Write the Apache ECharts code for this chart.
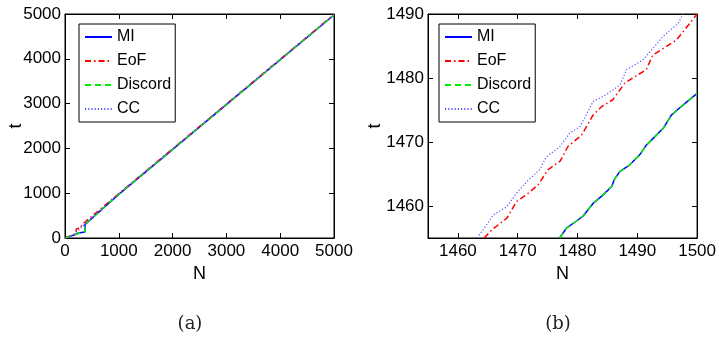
<!DOCTYPE html>
<html>
<head>
<meta charset="utf-8">
<script src="https://cdn.jsdelivr.net/npm/echarts@6/dist/echarts.min.js"></script>
<style>
  html, body { margin: 0; padding: 0; background: #fff; }
  #chart { width: 719px; height: 344px; }
</style>
</head>
<body>
<div id="chart"></div>
<script>
// names of the four methods
const seriesNames = ['MI', 'EoF', 'Discord', 'CC'];

// (a) full range, [N, t]
const fullMI = [[0, 0], [150, 60], [280, 118], [370, 135], [372, 300], [1000, 975], [3000, 2977], [5000, 4978]];
const fullEoF = [[0, 0], [150, 70], [205, 95], [210, 200], [300, 230], [305, 290], [1000, 990], [3000, 2990], [5000, 4990]];
const fullDiscord = [[0, 0], [150, 60], [280, 118], [370, 135], [372, 300], [1000, 975], [3000, 2977], [5000, 4978]];
const fullCC = [[0, 0], [200, 90], [260, 180], [330, 270], [1000, 992], [3000, 2992], [5000, 4992]];

// (b) zoomed window, [N, t]
const zoomMI = [[1477.0, 1455.0], [1478.2, 1456.6], [1479.6, 1457.5], [1480.9, 1458.4], [1482.6, 1460.4], [1484.0, 1461.5],
  [1485.7, 1463.0], [1486.2, 1464.2], [1487.1, 1465.4], [1488.7, 1466.4], [1490.4, 1468.0], [1491.5, 1469.5],
  [1492.9, 1470.8], [1494.3, 1472.1], [1495.7, 1474.2], [1497.3, 1475.5], [1500, 1477.6]];
const zoomEoF = [[1464.4, 1455.0], [1465.7, 1456.3], [1468.2, 1458.1], [1469.8, 1460.7], [1471.5, 1461.8], [1473.4, 1463.3],
  [1475.1, 1465.7], [1477.1, 1467.0], [1478.4, 1469.3], [1480.7, 1471.1], [1482.6, 1474.2], [1484.0, 1475.5],
  [1485.9, 1476.6], [1487.9, 1479.2], [1489.6, 1480.2], [1491.5, 1481.3], [1492.6, 1483.6], [1494.8, 1484.9],
  [1496.5, 1485.9], [1497.9, 1487.5], [1500, 1490.0]];
const zoomDiscord = zoomMI.slice();
const zoomCC = [[1463.2, 1455.0], [1464.6, 1456.8], [1465.9, 1458.6], [1468.2, 1459.9], [1469.8, 1462.0], [1471.5, 1463.8],
  [1473.7, 1465.7], [1474.8, 1467.7], [1477.1, 1469.3], [1478.7, 1471.4], [1480.4, 1472.4], [1482.6, 1476.3],
  [1484.8, 1477.4], [1487.1, 1478.9], [1488.2, 1481.3], [1490.9, 1482.8], [1492.6, 1484.6], [1494.3, 1486.5],
  [1496.8, 1488.5], [1498.2, 1491.0]];

// axis ranges
const fullRange = { min: 0, max: 5000, interval: 1000 };
const zoomX = { min: 1455, max: 1500, interval: 10, first: 1460 };
const zoomY = { min: 1455, max: 1490, interval: 10, first: 1460 };
const captions = ['(a)', '(b)'];

const FONT = 'Liberation Sans, Arial, sans-serif';
const STYLES = {
  MI: { color: '#0000ff', width: 1.5, type: 'solid' },
  EoF: { color: '#ff0000', width: 1.5, type: [6, 3, 1.5, 3] },
  Discord: { color: '#00ee00', width: 1.5, type: [6, 4] },
  CC: { color: '#5555ff', width: 1.2, type: [1.2, 2] }
};

const chart = echarts.init(document.getElementById('chart'));

// ticks only on given values (matlab style)
function tickAxis(kind, gridIndex, pos, r, showLabel, name) {
  const ax = {
    type: 'value',
    gridIndex: gridIndex,
    position: pos,
    min: r.min,
    max: r.max,
    interval: r.interval,
    splitLine: { show: false },
    axisLine: { show: true, onZero: false, lineStyle: { color: '#000', width: 1 } },
    axisTick: { show: true, inside: true, length: 5, lineStyle: { color: '#000' } },
    axisLabel: {
      show: showLabel,
      color: '#000',
      fontFamily: FONT,
      fontSize: 17,
      margin: kind === 'x' ? 5 : 4,
      showMinLabel: true,
      showMaxLabel: true,
      formatter: (v) => String(v)
    }
  };
  if (r.first !== undefined) {
    // zoomed axes: ticks start at 1460, the edge 1455 is not labelled
    ax.interval = undefined;
    ax.customValues = [];
    for (let v = r.first; v <= r.max; v += r.interval) ax.customValues.push(v);
    ax.axisTick.customValues = ax.customValues;
    ax.axisLabel.customValues = ax.customValues;
  }
  if (name) {
    ax.name = name;
    ax.nameLocation = 'middle';
    ax.nameTextStyle = { fontFamily: FONT, fontSize: 18, color: '#000' };
    if (kind === 'y') {
      ax.nameRotate = 90;
      ax.nameMoveOverlap = false;
      ax.nameGap = gridIndex === 0 ? 40 : 44;
    } else {
      ax.nameGap = 23;
    }
  }
  return ax;
}

function makeSeries(name, data, xi, yi) {
  const s = STYLES[name];
  return {
    name: name,
    type: 'line',
    xAxisIndex: xi,
    yAxisIndex: yi,
    data: data,
    symbol: 'none',
    smooth: false,
    clip: true,
    animation: false,
    lineStyle: { color: s.color, width: s.width, type: s.type },
    itemStyle: { color: s.color }
  };
}

function makeLegend(left) {
  return {
    left: left,
    top: 24,
    orient: 'vertical',
    data: seriesNames,
    itemWidth: 27,
    itemHeight: 14,
    itemGap: 8,
    padding: [5, 4, 5, 5],
    backgroundColor: '#fff',
    borderColor: '#000',
    borderWidth: 1,
    selectedMode: false,
    itemStyle: { opacity: 0 },
    textStyle: { fontFamily: FONT, fontSize: 16, color: '#000' }
  };
}

const option = {
  animation: false,
  backgroundColor: '#fff',
  title: captions.map((c, i) => ({
    text: c,
    left: i === 0 ? 185 : 553,
    top: 310,
    textAlign: 'center',
    textStyle: { fontFamily: 'DejaVu Serif, Liberation Serif, serif', fontSize: 18, fontWeight: 'normal', color: '#222' }
  })),
  legend: [makeLegend(79), makeLegend(439)],
  grid: [
    { left: 65, top: 14, width: 269, height: 224, show: true, borderColor: '#000', borderWidth: 1 },
    { left: 428, top: 14, width: 270, height: 224, show: true, borderColor: '#000', borderWidth: 1 }
  ],
  xAxis: [
    tickAxis('x', 0, 'bottom', fullRange, true, 'N'),
    tickAxis('x', 0, 'top', fullRange, false),
    tickAxis('x', 1, 'bottom', zoomX, true, 'N'),
    tickAxis('x', 1, 'top', zoomX, false)
  ],
  yAxis: [
    tickAxis('y', 0, 'left', fullRange, true, 't'),
    tickAxis('y', 0, 'right', fullRange, false),
    tickAxis('y', 1, 'left', zoomY, true, 't'),
    tickAxis('y', 1, 'right', zoomY, false)
  ],
  series: [
    makeSeries('MI', fullMI, 0, 0),
    makeSeries('EoF', fullEoF, 0, 0),
    makeSeries('Discord', fullDiscord, 0, 0),
    makeSeries('CC', fullCC, 0, 0),
    makeSeries('MI', zoomMI, 2, 2),
    makeSeries('EoF', zoomEoF, 2, 2),
    makeSeries('Discord', zoomDiscord, 2, 2),
    makeSeries('CC', zoomCC, 2, 2)
  ]
};

chart.setOption(option);
</script>
</body>
</html>
